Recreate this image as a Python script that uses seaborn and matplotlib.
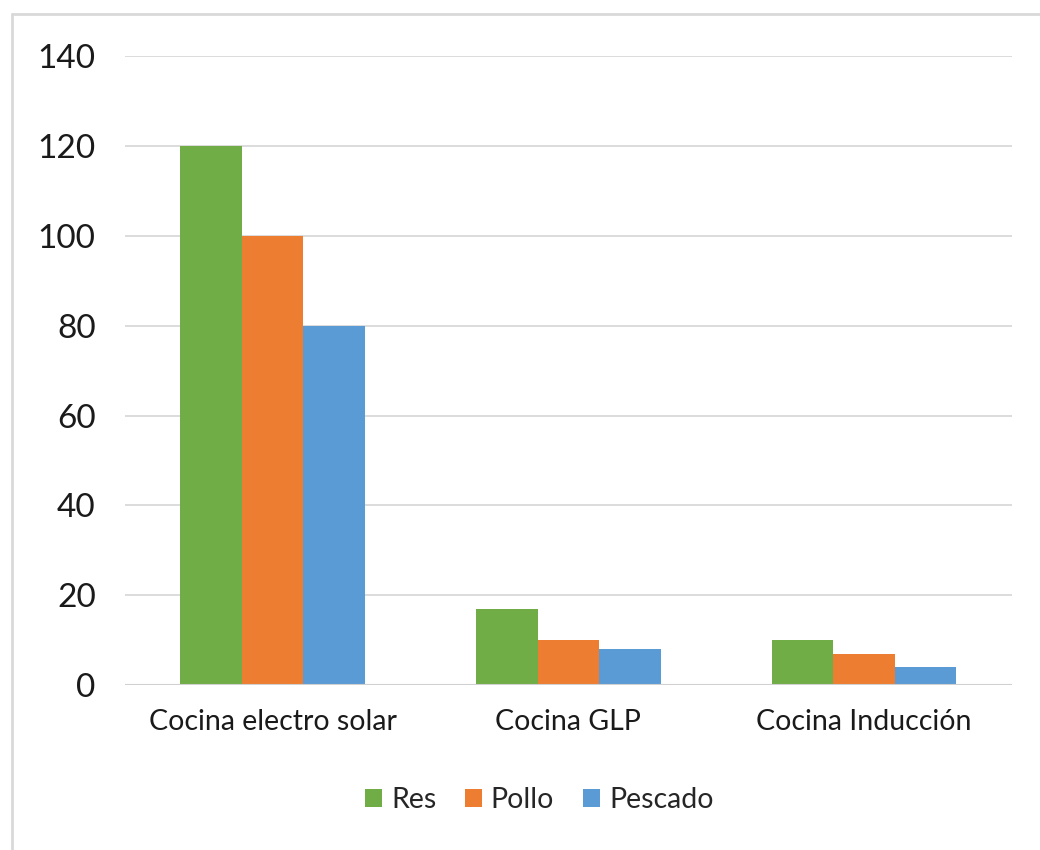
import matplotlib
matplotlib.use("Agg")
import matplotlib.pyplot as plt
from matplotlib.lines import Line2D
import seaborn as sns
import pandas as pd

# Cooking time by stove type and food
categories = ["Cocina electro solar", "Cocina GLP", "Cocina Inducción"]
series_names = ["Res", "Pollo", "Pescado"]
res = [120, 17, 10]
pollo = [100, 10, 7]
pescado = [80, 8, 4]
y_ticks = [0, 20, 40, 60, 80, 100, 120, 140]

colors = ["#70ad47", "#ed7d31", "#5b9bd5"]

df = pd.DataFrame({
    "categoria": categories * 3,
    "serie": [s for s in series_names for _ in categories],
    "valor": res + pollo + pescado,
})

sns.set_theme(style="white")
plt.rcParams["font.family"] = ["Lato", "DejaVu Sans"]

fig = plt.figure(figsize=(10.4, 8.5), dpi=100)
ax = fig.add_axes([0.120, 0.194, 0.853, 0.740])

sns.barplot(data=df, x="categoria", y="valor", hue="serie",
            order=categories, hue_order=series_names,
            palette=colors, width=0.625, saturation=1,
            edgecolor="none", linewidth=0, ax=ax, zorder=3)

ax.set_xlim(-0.5, 2.5)
ax.set_ylim(0, 140)
ax.set_yticks(y_ticks)
ax.set_yticklabels([str(t) for t in y_ticks], fontsize=24, color="#1a1a1a")
ax.tick_params(axis="x", labelsize=20.5, colors="#1a1a1a", pad=17, length=0)
ax.tick_params(axis="y", pad=21, length=0)
ax.set_xlabel("")
ax.set_ylabel("")
ax.grid(axis="y", color="#d9d9d9", linewidth=1.3, zorder=0)
ax.set_axisbelow(True)
for s in ax.spines.values():
    s.set_visible(False)
ax.axhline(0, color="#d0d0d0", linewidth=1.5, zorder=4)

leg = ax.legend(loc="center", bbox_to_anchor=(0.467, -0.183), ncol=3,
                frameon=False, fontsize=20.5, handlelength=0.62, handleheight=0.62,
                handletextpad=0.3, columnspacing=1.0)

# chart area border (top and left edges)
fig.add_artist(Line2D([12 / 1040, 12 / 1040], [0, 1 - 14 / 850],
                      transform=fig.transFigure, color="#d9d9d9", linewidth=2))
fig.add_artist(Line2D([12 / 1040, 1], [1 - 14 / 850, 1 - 14 / 850],
                      transform=fig.transFigure, color="#d9d9d9", linewidth=2))

fig.savefig("out.png", dpi=100, facecolor="white")
